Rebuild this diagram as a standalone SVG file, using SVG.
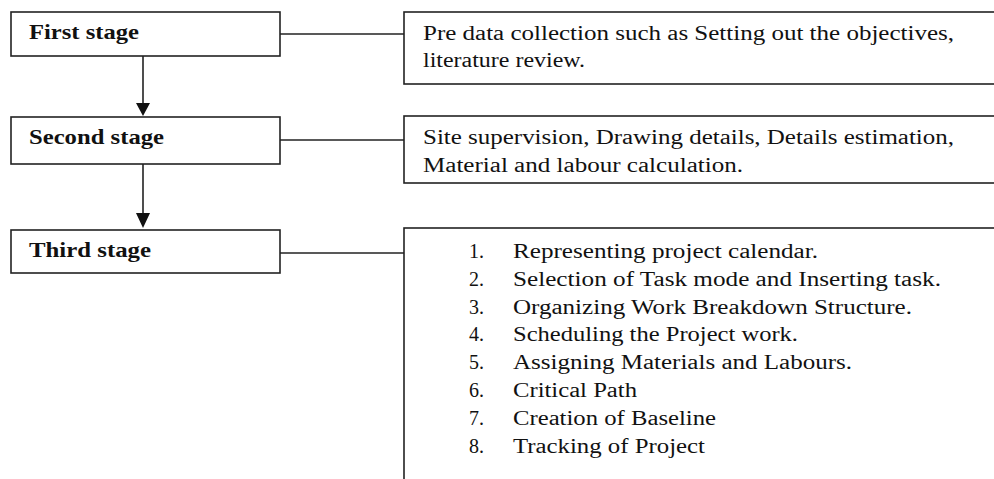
<svg xmlns="http://www.w3.org/2000/svg" width="994" height="479" viewBox="0 0 994 479">
<style>
  .box { fill: #ffffff; stroke: #222222; stroke-width: 1.6; }
  .stage { font-family: "Liberation Serif", "Times New Roman", serif; font-weight: bold; font-size: 22px; fill: #111111; }
  .desc { font-family: "Liberation Serif", "Times New Roman", serif; font-size: 20px; fill: #111111; }
  .conn { stroke: #222222; stroke-width: 1.6; fill: none; }
  .head { fill: #111111; }
</style>
<rect width="994" height="479" fill="#ffffff"/>
<g id="first-stage">
  <rect class="box" x="11" y="12" width="269" height="44"/>
  <text class="stage" x="29" y="39" textLength="110" lengthAdjust="spacingAndGlyphs">First stage</text>
</g>
<g id="second-stage">
  <rect class="box" x="11" y="117" width="269" height="47"/>
  <text class="stage" x="29" y="144" textLength="135" lengthAdjust="spacingAndGlyphs">Second stage</text>
</g>
<g id="third-stage">
  <rect class="box" x="11" y="230" width="269" height="43"/>
  <text class="stage" x="29" y="257" textLength="122" lengthAdjust="spacingAndGlyphs">Third stage</text>
</g>
<g id="first-desc">
  <rect class="box" x="404" y="12" width="600" height="72"/>
  <text class="desc" x="423" y="40" textLength="531" lengthAdjust="spacingAndGlyphs">Pre data collection such as Setting out the objectives,</text>
  <text class="desc" x="423" y="67" textLength="162" lengthAdjust="spacingAndGlyphs">literature review.</text>
</g>
<g id="second-desc">
  <rect class="box" x="404" y="116" width="600" height="67"/>
  <text class="desc" x="423" y="144" textLength="531" lengthAdjust="spacingAndGlyphs">Site supervision, Drawing details, Details estimation,</text>
  <text class="desc" x="423" y="172" textLength="320" lengthAdjust="spacingAndGlyphs">Material and labour calculation.</text>
</g>
<g id="third-desc">
  <rect class="box" x="404" y="228" width="600" height="260"/>
  <g class="desc">
    <text x="469" y="258">1.</text><text x="513" y="258" textLength="305" lengthAdjust="spacingAndGlyphs">Representing project calendar.</text>
    <text x="469" y="286">2.</text><text x="513" y="286" textLength="428" lengthAdjust="spacingAndGlyphs">Selection of Task mode and Inserting task.</text>
    <text x="469" y="314">3.</text><text x="513" y="314" textLength="399" lengthAdjust="spacingAndGlyphs">Organizing Work Breakdown Structure.</text>
    <text x="469" y="341">4.</text><text x="513" y="341" textLength="285" lengthAdjust="spacingAndGlyphs">Scheduling the Project work.</text>
    <text x="469" y="369">5.</text><text x="513" y="369" textLength="339" lengthAdjust="spacingAndGlyphs">Assigning Materials and Labours.</text>
    <text x="469" y="397">6.</text><text x="513" y="397" textLength="124" lengthAdjust="spacingAndGlyphs">Critical Path</text>
    <text x="469" y="425">7.</text><text x="513" y="425" textLength="203" lengthAdjust="spacingAndGlyphs">Creation of Baseline</text>
    <text x="469" y="453">8.</text><text x="513" y="453" textLength="192" lengthAdjust="spacingAndGlyphs">Tracking of Project</text>
  </g>
</g>
<g id="connectors">
  <line class="conn" x1="280" y1="34" x2="404" y2="34"/>
  <line class="conn" x1="280" y1="140" x2="404" y2="140"/>
  <line class="conn" x1="280" y1="253" x2="404" y2="253"/>
  <line class="conn" x1="143" y1="56" x2="143" y2="104"/>
  <polygon class="head" points="136,103 150,103 143,116"/>
  <line class="conn" x1="143" y1="164" x2="143" y2="214"/>
  <polygon class="head" points="136,213 150,213 143,228"/>
</g>
</svg>
